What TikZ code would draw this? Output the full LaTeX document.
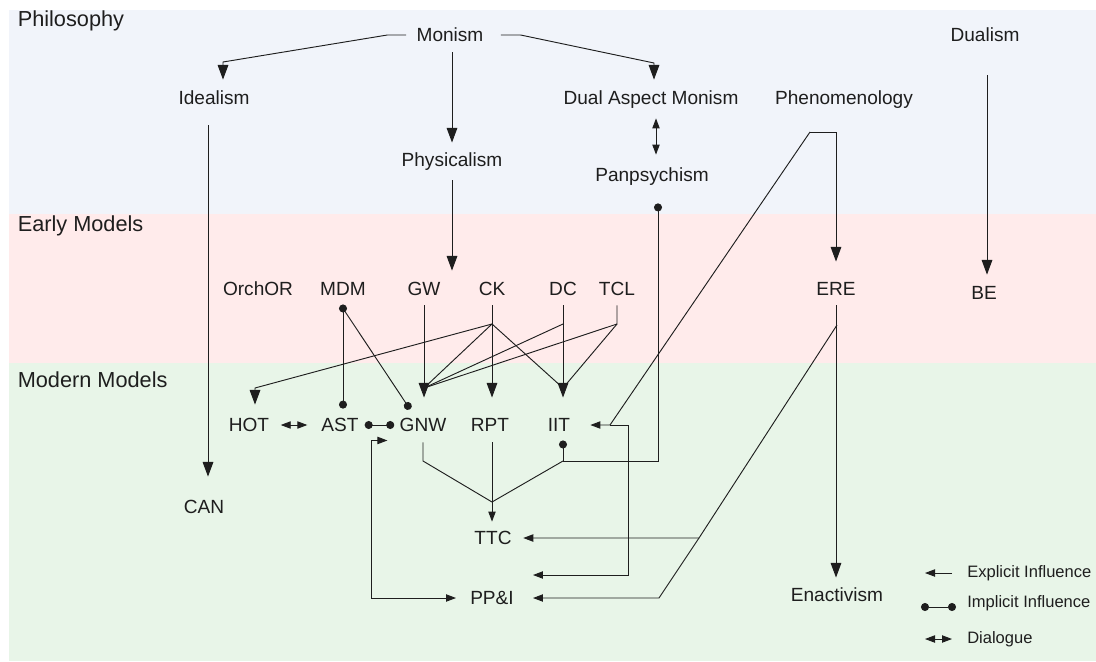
\documentclass[tikz,border=0pt]{standalone}
\usepackage{fontspec}
\setmainfont{Liberation Sans}
\usetikzlibrary{arrows.meta}

\definecolor{philbg}{RGB}{241,244,250}
\definecolor{earlybg}{RGB}{255,235,235}
\definecolor{modernbg}{RGB}{232,245,232}
\definecolor{ink}{RGB}{30,30,30}

\tikzset{
  concept/.style={font=\fontsize{14.3}{16}\selectfont, text=ink, inner sep=0pt, text height=12.2pt, text depth=2pt},
  bandlabel/.style={font=\fontsize{16.3}{19}\selectfont, text=ink, anchor=west, inner sep=0pt, text height=13.5pt, text depth=1.8pt},
  legendtext/.style={font=\fontsize{12.4}{14}\selectfont, text=ink, anchor=west, inner sep=0pt, text height=9.9pt, text depth=1pt},
  conn/.style={draw=ink, line width=0.7pt},
  expl/.style={conn, -{Triangle[length=11pt, width=8pt]}},
  explsm/.style={conn, -{Triangle[length=7.5pt, width=5.5pt]}},
  impl/.style={conn, {Circle[length=6pt]}-{Circle[length=6pt]}},
  implend/.style={conn, -{Circle[length=6pt]}},
  dial/.style={conn, {Triangle[length=7.5pt, width=5.5pt]}-{Triangle[length=7.5pt, width=5.5pt]}},
}

\begin{document}
\begin{tikzpicture}[x=0.75pt, y=-0.75pt]
  \useasboundingbox (0,0) rectangle (1096,661);

  % Bands
  \fill[philbg]   (9,10)  rectangle (1096,214);
  \fill[earlybg]  (9,214) rectangle (1096,363);
  \fill[modernbg] (9,363) rectangle (1096,661);

  \node[bandlabel] (philo)  at (17.5,19)    {Philosophy};
  \node[bandlabel] (early)  at (17.5,224)   {Early Models};
  \node[bandlabel] (modern) at (17.5,379.5) {Modern Models};

  % Philosophy
  \node[concept] (monism)      at (450,35)  {Monism};
  \node[concept] (dualism)     at (985,35)  {Dualism};
  \node[concept] (idealism)    at (214,98)  {Idealism};
  \node[concept] (dam)         at (651,98)  {Dual Aspect Monism};
  \node[concept] (phenom)      at (844,98)  {Phenomenology};
  \node[concept] (physicalism) at (452,160) {Physicalism};
  \node[concept] (panpsych)    at (652,175) {Panpsychism};

  % Early models
  \node[concept] (orchor) at (258,289) {OrchOR};
  \node[concept] (mdm)    at (343,289) {MDM};
  \node[concept] (gw)     at (424,289) {GW};
  \node[concept] (ck)     at (492,289) {CK};
  \node[concept] (dc)     at (563,289) {DC};
  \node[concept] (tcl)    at (617,289) {TCL};
  \node[concept] (ere)    at (836,289) {ERE};
  \node[concept] (be)     at (984,293) {BE};

  % Modern models
  \node[concept] (hot)   at (249,425) {HOT};
  \node[concept] (ast)   at (340,425) {AST};
  \node[concept] (gnw)   at (423,425) {GNW};
  \node[concept] (rpt)   at (490,425) {RPT};
  \node[concept] (iit)   at (559,425) {IIT};
  \node[concept] (can)   at (204,507) {CAN};
  \node[concept] (ttc)   at (493,538) {TTC};
  \node[concept] (ppi)   at (492,598) {PP\&I};
  \node[concept] (enact) at (837,595) {Enactivism};

  % Junctions
  \coordinate (phenfork) at (810,132);
  \coordinate (ckfork)   at (492,324);
  \coordinate (dcfork)   at (563,324);
  \coordinate (tclfork)  at (617,324);
  \coordinate (gnwtop)   at (424,388);
  \coordinate (iittop)   at (563,388);
  \coordinate (iitlow)   at (563,461);
  \coordinate (ttcmerge) at (492,502);
  \coordinate (iitin)    at (610,425);
  \coordinate (erefork)  at (837,325);
  \coordinate (erebend)  at (699,538);

  % From philosophy
  \draw[expl, shorten <=7.7pt, shorten >=6.5pt] (monism.west) -- ++(-29,0) -- (223,62) -- (223,62 |- idealism.north);
  \draw[expl, shorten <=13pt, shorten >=6.5pt] (monism.east) -- ++(37,0) -- (654,63) -- (654,63 |- dam.north);
  \draw[expl, shorten <=5.8pt, shorten >=5.8pt] (physicalism.north |- monism.south) -- (physicalism.north);
  \draw[expl, shorten <=13.3pt, shorten >=15.5pt] (idealism.south -| 208,0) -- (can.north -| 208,0);
  \draw[expl, shorten <=8pt, shorten >=6.5pt] (physicalism.south) -- (physicalism.south |- gw.north);
  \draw[dial, shorten <=8pt, shorten >=8pt] (dam.south -| 656,0) -- (panpsych.north -| 656,0);
  \draw[expl, shorten <=23pt, shorten >=6.5pt] (dualism.south -| 987,0) -- (be.north -| 987,0);
  \draw[expl, shorten >=13.3pt] (phenfork) -| (ere.north);
  \draw[explsm, shorten >=15pt] (phenfork) -- (iitin) -- (iit.east);
  \draw[explsm, shorten >=14.25pt] (iitin) -- (628,425) |- ([yshift=17.25pt]ppi.east);
  \draw[impl, shorten <=14pt, shorten >=4.3pt] (panpsych.south -| 658,0) -- (658,461) -- (iitlow) -- (iit.south -| iitlow);

  % From early models
  \draw[impl, shorten <=4.3pt, shorten >=5pt] (mdm.south) -- (mdm.south |- ast.north);
  \draw[implend, shorten >=5.4pt] ([yshift=-7.3pt]mdm.south) -- ([xshift=-6.75pt]gnw.north);
  \draw[expl, shorten <=5pt, shorten >=13.3pt] (gw.south) -- (gw.south |- gnw.north);
  \draw[expl, shorten <=5pt, shorten >=13.3pt] (ck.south) -- (ck.south |- rpt.north);
  \draw[expl, shorten <=5pt, shorten >=13.3pt] (dc.south) -- (dc.south |- iit.north);
  \draw[conn, shorten <=5pt] (tcl.south) -- (tclfork) -- (gnwtop);
  \draw[conn] (tclfork) -- (iittop);
  \draw[conn] (dcfork) -- (gnwtop);
  \draw[conn] (ckfork) -- (gnwtop) (ckfork) -- (iittop);
  \draw[expl, shorten >=8pt] (ckfork) -- (255,388) -- ([xshift=4.5pt]hot.north);
  \draw[expl, shorten <=5pt, shorten >=5.8pt] (ere.south) -- (ere.south |- enact.north);
  \draw[explsm, shorten >=8.6pt] (erefork) -- (erebend) -- (ttc.east);
  \draw[explsm, shorten >=14.25pt] (erebend) -- (659,598) -- (ppi.east);

  % Among modern models
  \draw[dial, shorten <=8.5pt, shorten >=10.4pt] (hot.east) -- (ast.west);
  \draw[impl, shorten <=4.4pt, shorten >=3.9pt] (ast.east) -- (gnw.west);
  \draw[dial, shorten >=10.5pt] ([shift={(-9pt,-4.3pt)}]gnw.south west) -- ++(-16,0) |- (ppi.west);
  \draw[conn, shorten <=5.8pt] (gnw.south) -- (gnw.south |- iitlow) -- (ttcmerge);
  \draw[conn] (iitlow) -- (ttcmerge);
  \draw[explsm, shorten <=5.8pt, shorten >=5pt] (rpt.south -| ttcmerge) -- (ttc.north -| ttcmerge);

  % Legend
  \node[legendtext] (lexpl) at (967,572) {Explicit Influence};
  \node[legendtext] (limpl) at (967,602) {Implicit Influence};
  \node[legendtext] (ldial) at (967,638) {Dialogue};
  \draw[explsm] ([shift={(-11.25pt,-0.75pt)}]lexpl.west) -- ++(-27,0);
  \draw[impl] ([shift={(-8.25pt,-3.75pt)}]limpl.west) -- ++(-35,0);
  \draw[dial] ([shift={(-11.25pt,-0.75pt)}]ldial.west) -- ++(-27,0);

\end{tikzpicture}
\end{document}
